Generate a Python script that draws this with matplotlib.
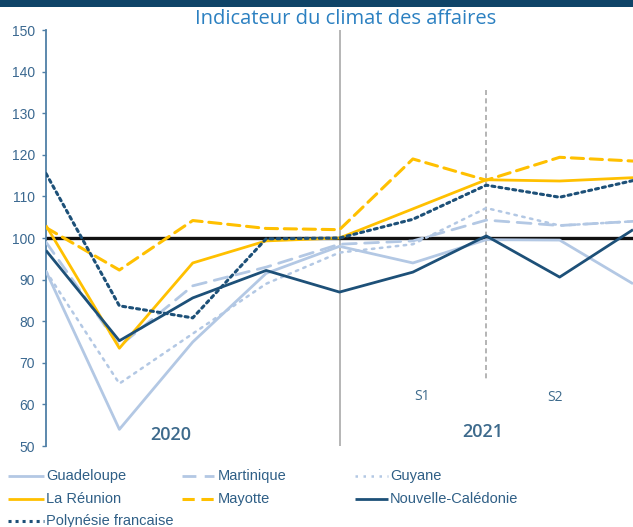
import matplotlib
matplotlib.use("Agg")
import matplotlib.pyplot as plt
from matplotlib.lines import Line2D
from matplotlib.patches import Rectangle

# ---- data ----
periods = list(range(9))
guadeloupe = [92, 54, 75, 91.5, 98, 94, 99.6, 99.5, 89]
martinique = [99, 74, 88.5, 93, 98.5, 99.3, 104.3, 103, 104]
guyane = [92, 65, 77, 89, 96.5, 98.5, 107.2, 103, 104]
reunion = [103, 73.5, 94, 99.3, 100, 107, 114, 113.7, 114.5]
mayotte = [102.5, 92.3, 104.2, 102.3, 102, 119, 113.9, 119.4, 118.5]
nouvelle_caledonie = [97, 75.3, 85.6, 92.2, 87, 91.8, 100.5, 90.6, 102]
polynesie = [115.5, 83.7, 80.8, 99.8, 100, 104.5, 112.7, 109.8, 113.8]
reference_level = 100
yticks = [50, 60, 70, 80, 90, 100, 110, 120, 130, 140, 150]
title = "Indicateur du climat des affaires"
year_labels = ["2020", "2021"]
half_labels = ["S1", "S2"]
names = ["Guadeloupe", "Martinique", "Guyane", "La Réunion", "Mayotte",
         "Nouvelle-Calédonie", "Polynésie francaise"]

W, H = 633, 527
fig = plt.figure(figsize=(W / 100, H / 100), dpi=100)
fig.patch.set_facecolor("white")

ax = fig.add_axes([46 / W, 1 - 446 / H, (W - 46) / W, (446 - 30) / H])
ax.set_xlim(0, 8)
ax.set_ylim(50, 150)

light = "#b3c8e4"
yellow = "#ffc000"
dark = "#1d5078"

styles = [
    dict(color=light, lw=2.0, ls="-"),
    dict(color=light, lw=2.0, ls=(0, (5, 3))),
    dict(color=light, lw=1.8, ls=(0, (1, 2.2))),
    dict(color=yellow, lw=2.0, ls="-"),
    dict(color=yellow, lw=2.2, ls=(0, (4, 2.2))),
    dict(color=dark, lw=2.0, ls="-"),
    dict(color=dark, lw=2.2, ls=(0, (1, 1.3))),
]
series = [guadeloupe, martinique, guyane, reunion, mayotte,
          nouvelle_caledonie, polynesie]

# reference lines
ax.axvline(4, color="#b5b5b5", lw=1.4, zorder=1)
ax.plot([6, 6], [135.5, 66], color="#a8a8a8", lw=1.2, ls=(0, (3, 2)), zorder=1)
ax.axhline(reference_level, color="#111111", lw=2.4, zorder=2)

orders = [3, 3, 3, 4, 4, 5, 5]
for s, st, z in zip(series, styles, orders):
    ax.plot(periods, s, color=st["color"], lw=st["lw"], ls=st["ls"],
            zorder=z, solid_capstyle="butt", dash_capstyle="round")

# axes styling
for sp in ["top", "right", "bottom"]:
    ax.spines[sp].set_visible(False)
ax.spines["left"].set_color("#4f7fa6")
ax.spines["left"].set_linewidth(1.3)
ax.set_xticks([])
ax.set_yticks(yticks)
ax.tick_params(axis="y", direction="out", length=3, width=1, color="#4f7fa6",
               pad=5, labelsize=10, labelcolor="#3a6890")
for lab in ax.get_yticklabels():
    lab.set_fontfamily("Liberation Sans")

tc = "#3d6a8c"
ax.text(1.70, 52.6, year_labels[0], ha="center", va="center", fontsize=13,
        color=tc, family="Open Sans", weight="semibold")
ax.text(5.95, 53.4, year_labels[1], ha="center", va="center", fontsize=13,
        color=tc, family="Open Sans", weight="semibold")
ax.text(5.12, 62, half_labels[0], ha="center", va="center", fontsize=10,
        color=tc, family="Open Sans")
ax.text(6.94, 61.6, half_labels[1], ha="center", va="center", fontsize=10,
        color=tc, family="Open Sans")

# top band and title
fig.add_artist(Rectangle((0, 1 - 7 / H), 1, 7 / H, transform=fig.transFigure,
                         color="#0f4468", lw=0))
fig.text(346 / W, 1 - 19 / H, title, ha="center", va="center", fontsize=14.5,
         color="#2b80c1", family="Open Sans")

# legend (Excel-like row-wise layout)
cols = [(8, 44, 46), (182, 214, 218), (355, 388, 390)]
rows = [476, 499, 521]
for i, (name, st) in enumerate(zip(names, styles)):
    r, c = divmod(i, 3)
    x0, x1, xt = cols[c]
    y = 1 - rows[r] / H
    fig.add_artist(Line2D([x0 / W, x1 / W], [y, y], transform=fig.transFigure,
                          color=st["color"], lw=st["lw"], ls=st["ls"],
                          solid_capstyle="butt"))
    fig.text(xt / W, y, name, ha="left", va="center", fontsize=10.5,
             color="#2f5f86", family="Liberation Sans")

fig.savefig("out.png", dpi=100)
